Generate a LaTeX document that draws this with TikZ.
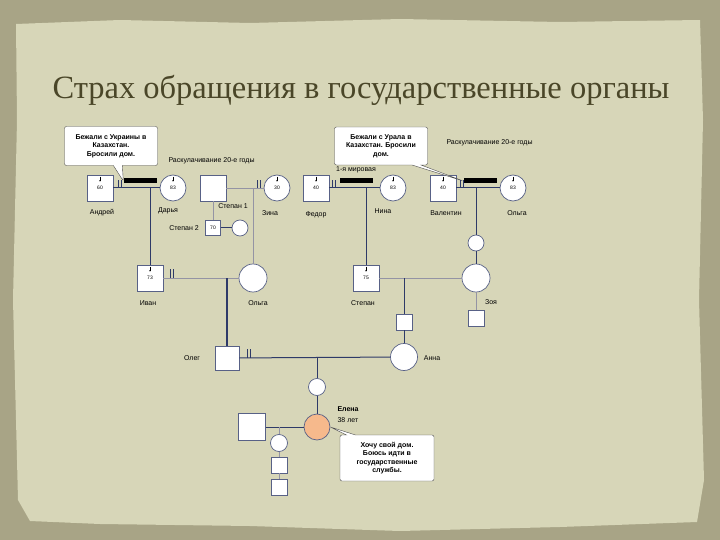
\documentclass[tikz,border=0pt]{standalone}
\usepackage{fontspec}
\setmainfont{Liberation Sans}
\newfontfamily\titlefont{Liberation Serif}
\usetikzlibrary{shapes.callouts,arrows.meta}

\definecolor{paper}{HTML}{D7D6B8}
\definecolor{frame}{HTML}{A8A486}
\definecolor{titlec}{HTML}{4A4628}
\definecolor{linec}{HTML}{2E3A68}
\definecolor{lineg}{HTML}{9494A4}
\definecolor{elenac}{HTML}{F6B98C}

\begin{document}
\begin{tikzpicture}[
    x=1pt, y=-1pt,
    person/.style={
      draw=linec!80,
      fill=white,
      line width=0.7pt,
      inner sep=0pt,
      font=\fontsize{5}{6}\selectfont
    },
    male/.style={person, rectangle, minimum size=26pt},
    female/.style={person, circle, minimum size=26pt},
    lbl/.style={font=\fontsize{7}{8}\selectfont},
    bar/.style={fill=black, minimum width=33pt, minimum height=5pt, inner sep=0pt},
    note/.style={
      rectangle callout,
      draw=black!70,
      fill=white,
      rounded corners=2pt,
      align=center,
      inner sep=2pt,
      callout pointer width=9pt,
      font=\bfseries\fontsize{7}{8.5}\selectfont
    },
    rel/.style={draw=linec, line width=1pt},
    relg/.style={draw=lineg, line width=0.8pt},
    tick/.style={draw=linec, line width=0.6pt},
    tipmark/.style={draw=black, line width=0.3pt, -{Stealth[length=1.5pt,width=1.5pt]}}
]

% paper
\fill[frame] (0,0) rectangle (720,540);
\fill[paper] (16,24) -- (120,20) -- (250,23) -- (400,19) -- (560,22) -- (700,20)
  -- (703,120) -- (699,300) -- (704,480) -- (697,522) -- (560,527) -- (400,531)
  -- (250,526) -- (100,524) -- (30,521) -- (18,500) -- (13,300) -- (17,120) -- cycle;
\useasboundingbox (0,0) rectangle (720,540);

\node[font=\titlefont\fontsize{32.5}{38}\selectfont, text=titlec] (title) at (361,90)
  {Страх обращения в государственные органы};

% first generation
\node[male] (andrey) at (100,188) {60};
\node[female] (darya) at (173,188) {83};
\node[male] (stf) at (213,188) {};
\node[female] (zina) at (277,188) {30};
\node[male] (fedor) at (316,188) {40};
\node[female] (nina) at (393,188) {83};
\node[male] (valentin) at (443,188) {40};
\node[female] (olga1) at (513,188) {83};

\node[lbl] (andreyl) at (102,213) {Андрей};
\node[lbl] (daryal) at (168,211) {Дарья};
\node[lbl] (stfl) at (233,206) {Степан 1};
\node[lbl] (zinal) at (270,213) {Зина};
\node[lbl] (fedorl) at (316,215) {Федор};
\node[lbl] (ninal) at (383,211) {Нина};
\node[lbl] (valentinl) at (446,213) {Валентин};
\node[lbl] (olga1l) at (517,213) {Ольга};

\node[bar] (bar1) at (140,181) {};
\node[bar] (bar2) at (356,181) {};
\node[bar] (bar3) at (480,181) {};

\node[lbl, anchor=west] (dek1) at (165,161) {Раскулачивание 20-е годы};
\node[lbl, anchor=west] (dek2) at (443,143) {Раскулачивание 20-е годы};
\node[lbl] (war) at (356,170) {1-я мировая};

\node[note, minimum width=93pt, minimum height=39pt,
  callout absolute pointer={(bar1.west)}] (note1) at (111,146)
  {Бежали с Украины в\\Казахстан.\\Бросили дом.};
\node[note, minimum width=93pt, minimum height=38pt,
  callout absolute pointer={(bar3.west)}] (note2) at (381,146)
  {Бежали с Урала в\\Казахстан. Бросили\\дом.};

\draw[rel] (andrey) -- (darya);
\draw[relg] (stf) -- (zina);
\draw[rel] (fedor) -- (nina);
\draw[rel] (valentin) -- (olga1);

\node[male, minimum size=15pt] (stepan2) at (213,228) {70};
\node[female, minimum size=16pt] (st2w) at (240,228) {};
\node[lbl] (stepan2l) at (184,228) {Степан 2};
\draw[relg] (stf) -- (stepan2);
\draw[rel] (stepan2) -- (st2w);

% second generation
\node[male] (ivan) at (150,278) {73};
\node[female, minimum size=28pt] (olga2) at (253,278) {};
\node[male] (stepan) at (366,278) {75};
\node[female, minimum size=16pt] (zoyas) at (476,243) {};
\node[female, minimum size=28pt] (zoya) at (476,278) {};

\node[lbl] (ivanl) at (148,303) {Иван};
\node[lbl] (olga2l) at (258,303) {Ольга};
\node[lbl] (stepanl) at (363,303) {Степан};
\node[lbl] (zoyal) at (491,302) {Зоя};

\coordinate (c1) at (150,188);
\coordinate (c2) at (253,188);
\coordinate (c3) at (366,188);
\coordinate (c4) at (476,188);
\draw[rel] (c1) -- (ivan);
\draw[relg] (c2) -- (olga2);
\draw[rel] (c3) -- (stepan);
\draw[rel] (c4) -- (zoyas);
\draw[rel] (zoyas) -- (zoya);

\draw[relg] (ivan) -- (olga2);
\draw[relg] (stepan) -- (zoya);

\node[male, minimum size=16pt] (stsq) at (404,322) {};
\node[male, minimum size=16pt] (zoyasq) at (476,318) {};
\draw[relg] (zoya) -- (zoyasq);

% third generation
\node[male, minimum size=24pt] (oleg) at (227,358) {};
\node[female, minimum size=27pt] (anna) at (404,357) {};
\node[lbl] (olegl) at (192,358) {Олег};
\node[lbl] (annal) at (432,358) {Анна};

\coordinate (c5) at (227,278);
\coordinate (c6) at (404,278);
\draw[rel, line width=1.3pt] (c5) -- (oleg);
\draw[rel] (c6) -- (stsq);
\draw[rel] (stsq) -- (anna);
\draw[rel] (oleg) -- (anna);

% Elena
\node[female, minimum size=17pt] (elenas) at (317,387) {};
\node[female, fill=elenac, minimum size=26pt] (elena) at (317,427) {};
\node[male, minimum size=27pt] (husb) at (252,427) {};
\node[lbl, anchor=west, font=\bfseries\fontsize{7}{8}\selectfont] (elenal) at (334,409) {Елена};
\node[lbl, anchor=west] (agel) at (334,420) {38 лет};

\coordinate (c7) at (317,357);
\draw[rel] (c7) -- (elenas);
\draw[rel] (elenas) -- (elena);
\draw[rel] (husb) -- (elena);

\node[female, minimum size=17pt] (ch1) at (279,443) {};
\node[male, minimum size=16pt] (ch2) at (279,465) {};
\node[male, minimum size=16pt] (ch3) at (279,487) {};
\coordinate (c8) at (279,427);
\draw[relg] (c8) -- (ch1);
\draw[relg] (ch1) -- (ch2);
\draw[relg] (ch2) -- (ch3);

\node[note, minimum width=94pt, minimum height=46pt,
  callout absolute pointer={(elena.east)}] (note3) at (387,458)
  {Хочу свой дом.\\Боюсь идти в\\государственные\\службы.};

% marks
\draw[tick] ([xshift=5pt]andrey.east) -- ++(0,-8) ([xshift=8pt]andrey.east) -- ++(0,-8);
\draw[tick] ([xshift=-6pt]zina.west) -- ++(0,-8) ([xshift=-3pt]zina.west) -- ++(0,-8);
\draw[tick] ([xshift=3pt]fedor.east) -- ++(0,-8) ([xshift=6pt]fedor.east) -- ++(0,-8);
\draw[tick] ([xshift=4pt]valentin.east) -- ++(0,-8) ([xshift=7pt]valentin.east) -- ++(0,-8);
\draw[tick] ([xshift=7pt]ivan.east) -- ++(0,-9) ([xshift=10pt]ivan.east) -- ++(0,-9);
\draw[tick] ([xshift=8pt]oleg.east) -- ++(0,-9) ([xshift=11pt]oleg.east) -- ++(0,-9);

\draw[tipmark] ([yshift=-2pt]andrey.north) -- ++(0,5);
\draw[tipmark] ([yshift=-2pt]darya.north) -- ++(0,5);
\draw[tipmark] ([yshift=-2pt]zina.north) -- ++(0,5);
\draw[tipmark] ([yshift=-2pt]fedor.north) -- ++(0,5);
\draw[tipmark] ([yshift=-2pt]nina.north) -- ++(0,5);
\draw[tipmark] ([yshift=-2pt]valentin.north) -- ++(0,5);
\draw[tipmark] ([yshift=-2pt]olga1.north) -- ++(0,5);
\draw[tipmark] ([yshift=-2pt]ivan.north) -- ++(0,5);
\draw[tipmark] ([yshift=-2pt]stepan.north) -- ++(0,5);

\end{tikzpicture}
\end{document}
